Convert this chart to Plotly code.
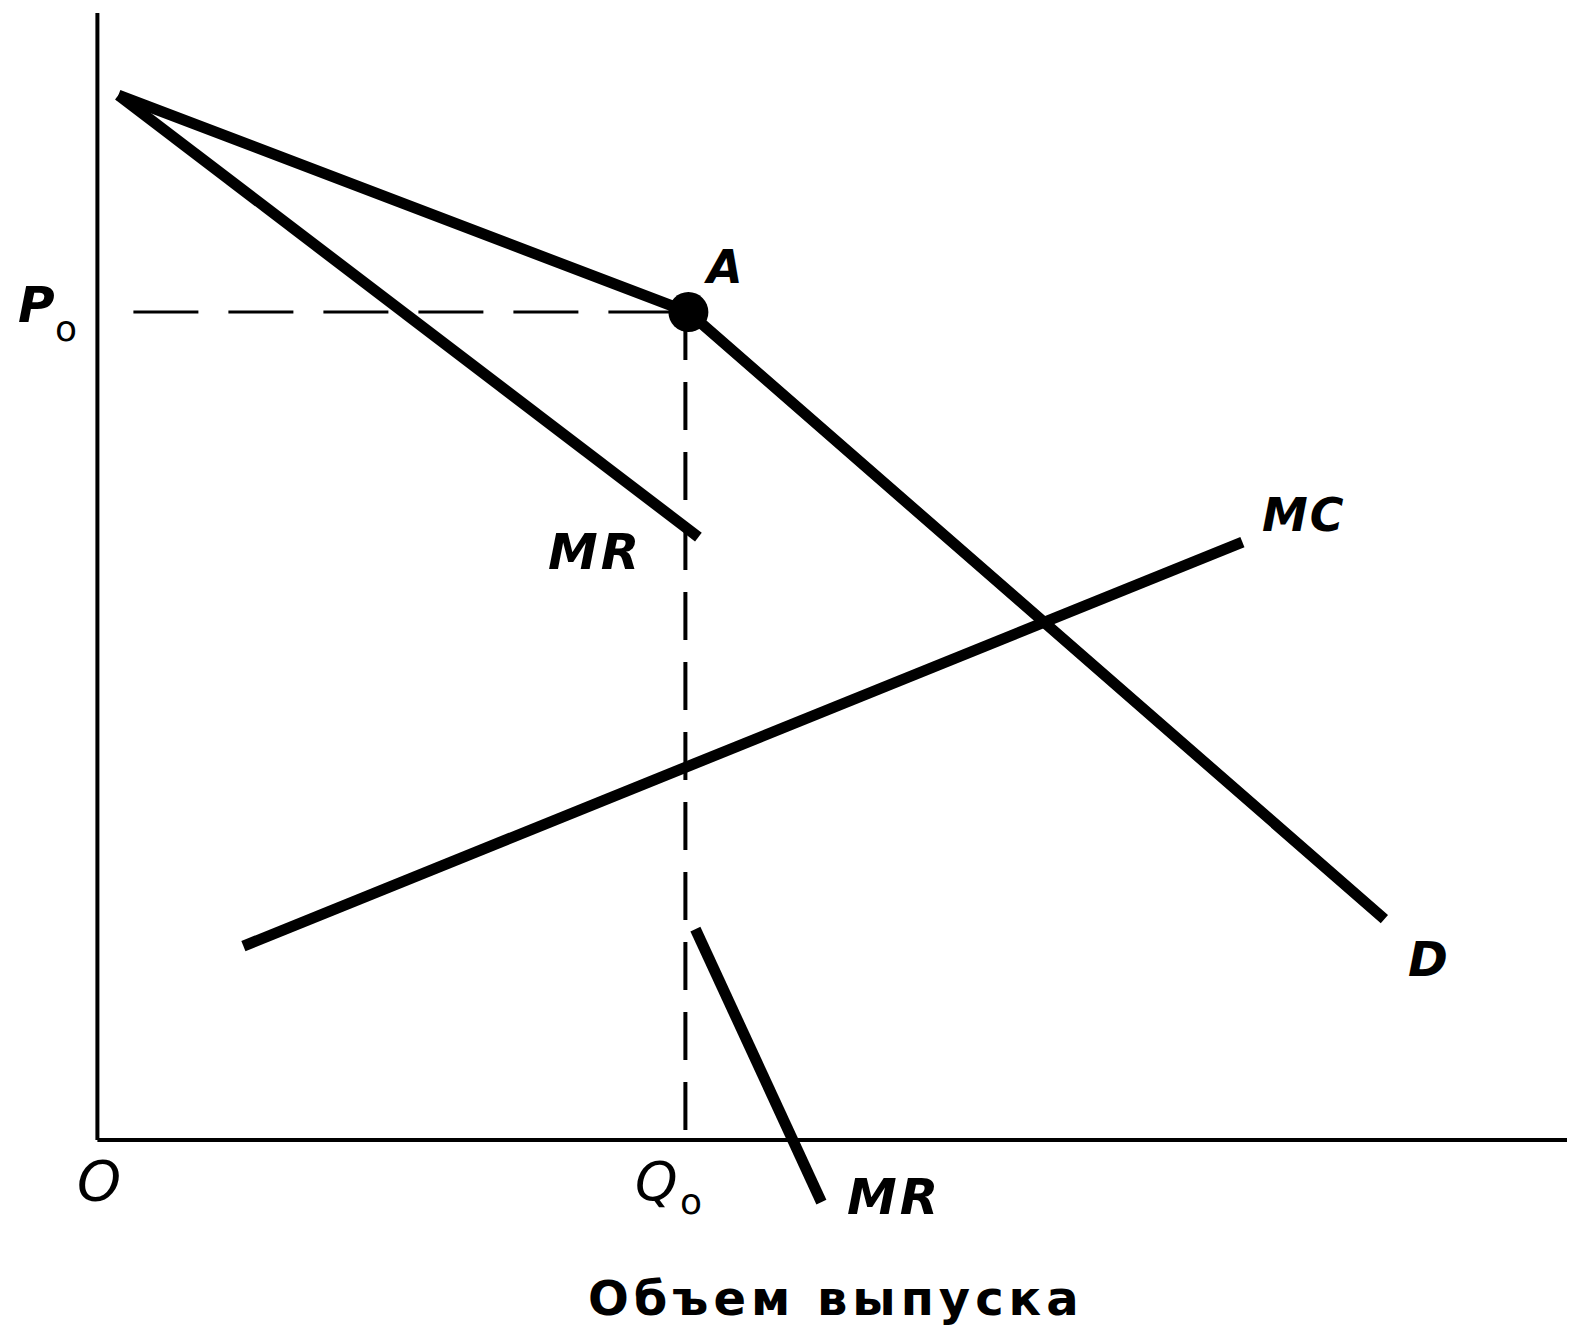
import plotly.graph_objects as go

# ---- data (abstract units: quantity on x, price on y) ----
demand_q = [2.1, 59.1, 128.7]
demand_p = [104.5, 82.8, 22.1]
mr_upper_q = [2.1, 60.1]
mr_upper_p = [104.5, 60.3]
mr_lower_q = [59.8, 72.4]
mr_lower_p = [21.1, -6.2]
mc_q = [14.6, 114.5]
mc_p = [19.4, 59.8]
point_A = (59.1, 82.8)
Q0 = 58.8
P0 = 82.8
axis_x_max = 147.0
axis_y_max = 112.7
dash_h_start = 3.6

# ---- figure ----
BODY = 8  # browser default body margin in px
W, H = 1575 - BODY, 1326 - BODY
XR = [(BODY - 97.4) / 10.0, (BODY - 97.4) / 10.0 + W / 10.0]
YR = [(1140.1 - BODY) / 10.0 - H / 10.0, (1140.1 - BODY) / 10.0]

def dx(px):  # shown-image pixel -> data x (for label placement)
    return (px * 1.0045 - 97.4) / 10.0

def dy(py):
    return (1140.1 - py * 1.0045) / 10.0

fig = go.Figure()
blk = "#000000"

# axes
fig.add_trace(go.Scatter(x=[0, 0], y=[0, axis_y_max], mode="lines",
                         line=dict(color=blk, width=4)))
fig.add_trace(go.Scatter(x=[0, axis_x_max], y=[0, 0], mode="lines",
                         line=dict(color=blk, width=4)))
# dashed guides
fig.add_trace(go.Scatter(x=[dash_h_start, point_A[0]], y=[P0, P0], mode="lines",
                         line=dict(color=blk, width=3, dash="65px,30px")))
fig.add_trace(go.Scatter(x=[Q0, Q0], y=[P0, 0], mode="lines",
                         line=dict(color=blk, width=4, dash="48px,22px")))
# curves
for xs, ys in [(demand_q, demand_p), (mr_upper_q, mr_upper_p),
               (mr_lower_q, mr_lower_p), (mc_q, mc_p)]:
    fig.add_trace(go.Scatter(x=xs, y=ys, mode="lines",
                             line=dict(color=blk, width=11)))
# point A
fig.add_trace(go.Scatter(x=[point_A[0]], y=[point_A[1]], mode="markers",
                         marker=dict(color=blk, size=40)))

def lab(text, px, py, size=44, bold=True, italic=True, family="DejaVu Sans",
        spacing=0):
    t = text
    if spacing:
        t = '<span style="letter-spacing:%dpx">%s</span>' % (spacing, t)
    if italic:
        t = "<i>" + t + "</i>"
    if bold:
        t = "<b>" + t + "</b>"
    fig.add_annotation(x=dx(px), y=dy(py), text=t, showarrow=False,
                       font=dict(family=family, size=size, color=blk),
                       xanchor="center", yanchor="middle")

lab("P", 36, 304, size=50)
lab("o", 66, 327, size=36, bold=False, italic=False)
lab("A", 720, 266, size=46)
lab("MR", 592, 550, size=50, spacing=3)
lab("MC", 1298, 513, size=46, spacing=2)
lab("D", 1422, 955, size=48)
lab("O", 99, 1175, size=56, bold=False)
lab("Q", 654, 1176, size=54, bold=False)
lab("o", 688, 1196, size=36, bold=False, italic=False)
lab("MR", 890, 1192, size=50, spacing=3)
lab("Объем выпуска", 832, 1292, size=48, bold=True, italic=False, spacing=5)

fig.update_layout(
    width=W, height=H,
    margin=dict(l=0, r=0, t=0, b=0),
    paper_bgcolor="white", plot_bgcolor="white",
    showlegend=False,
    xaxis=dict(range=XR, visible=False, fixedrange=True),
    yaxis=dict(range=YR, visible=False, fixedrange=True),
)

fig.write_html("out.html")
